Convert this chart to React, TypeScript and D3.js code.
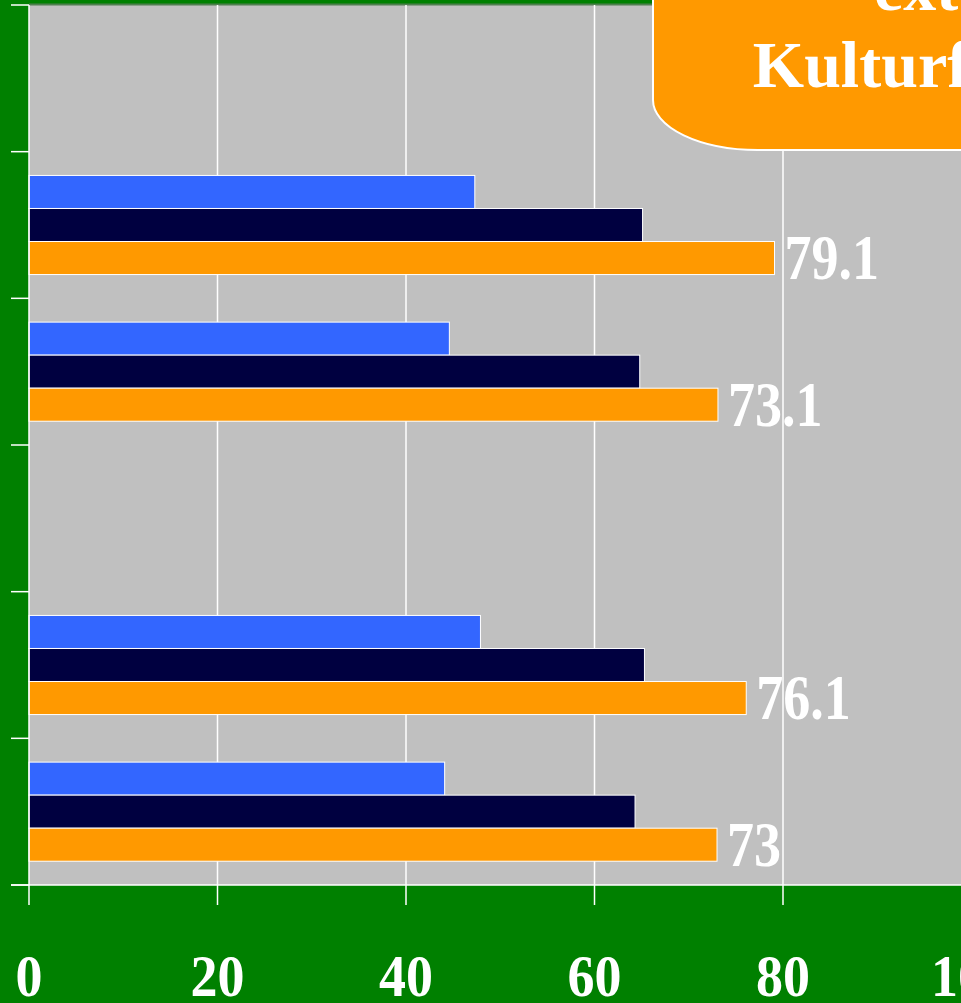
import * as d3 from "d3";
import { useEffect, useRef } from "react";

// categories (left labels are outside the visible crop), null = empty row
const categories = ["row1", "row2", "row3", "row4", "row5", "row6"];
const seriesNames = ["blue", "navy", "orange"];
const blueValues = [null, 47.3, 44.6, null, 47.9, 44.1];
const navyValues = [null, 65.1, 64.8, null, 65.3, 64.3];
const orangeValues = [null, 79.1, 73.1, null, 76.1, 73];
const xTicks = [0, 20, 40, 60, 80, 100];
const calloutLines = ["externer", "Kulturförderung"];

const colors = { blue: "#3366FF", navy: "#000040", orange: "#FF9900" };

export default function App() {
  const svgRef = useRef<SVGSVGElement>(null);

  useEffect(() => {
    draw();
  }, []);

  function draw() {
    const width = 961;
    const height = 1003;
    const plotTop = 5;
    const plotBottom = 885;
    const plotLeft = 29;

    const svg = d3.select(svgRef.current);
    svg.selectAll("*").remove();

    const x = d3.scaleLinear().domain([0, 100]).range([plotLeft, plotLeft + 942.5]);
    const y = d3.scaleBand().domain(categories).range([plotTop, plotBottom]).padding(0);
    const ySub = d3
      .scaleBand()
      .domain(seriesNames)
      .range([0, y.bandwidth()])
      .paddingInner(0)
      .paddingOuter(0.72);

    svg.append("rect").attr("width", width).attr("height", height).attr("fill", "#008000");

    // plot area
    svg
      .append("rect")
      .attr("x", plotLeft)
      .attr("y", plotTop)
      .attr("width", width - plotLeft)
      .attr("height", plotBottom - plotTop)
      .attr("fill", "#C0C0C0");
    svg
      .append("line")
      .attr("x1", plotLeft)
      .attr("x2", width)
      .attr("y1", plotTop - 0.5)
      .attr("y2", plotTop - 0.5)
      .attr("stroke", "#4f7f4f")
      .attr("stroke-width", 2);

    // gridlines
    svg
      .selectAll(".grid")
      .data(xTicks.filter((t) => t > 0))
      .join("line")
      .attr("x1", (d) => x(d))
      .attr("x2", (d) => x(d))
      .attr("y1", plotTop)
      .attr("y2", plotBottom)
      .attr("stroke", "#fff")
      .attr("stroke-width", 1.5);

    // bars
    const seriesData = [blueValues, navyValues, orangeValues];
    seriesNames.forEach((s, si) => {
      const vals = seriesData[si];
      const rows = categories
        .map((c, i) => ({ c, v: vals[i] }))
        .filter((r) => r.v !== null) as { c: string; v: number }[];
      svg
        .selectAll(`.bar_${s}`)
        .data(rows)
        .join("rect")
        .attr("x", x(0))
        .attr("y", (d) => (y(d.c) as number) + (ySub(s) as number))
        .attr("width", (d) => x(d.v) - x(0))
        .attr("height", ySub.bandwidth())
        .attr("fill", (colors as any)[s])
        .attr("stroke", "#fff")
        .attr("stroke-width", 1);
    });

    // value labels on orange bars
    const labelRows = categories
      .map((c, i) => ({ c, v: orangeValues[i] }))
      .filter((r) => r.v !== null) as { c: string; v: number }[];
    svg
      .selectAll(".valLabel")
      .data(labelRows)
      .join("text")
      .attr(
        "transform",
        (d) =>
          `translate(${x(d.v) + 10},${(y(d.c) as number) + (ySub("orange") as number) + ySub.bandwidth() / 2 + 21}) scale(1,1.16)`
      )
      .attr("font-family", "'Liberation Serif', 'Times New Roman', serif")
      .attr("font-weight", "bold")
      .attr("font-size", 54)
      .attr("fill", "#fff")
      .text((d) => String(d.v));

    // axes
    svg
      .append("line")
      .attr("x1", plotLeft)
      .attr("x2", plotLeft)
      .attr("y1", plotTop)
      .attr("y2", plotBottom)
      .attr("stroke", "#fff")
      .attr("stroke-width", 1.5);
    const yTickPos = categories.map((c) => y(c) as number).concat([plotBottom]);
    svg
      .selectAll(".yTick")
      .data(yTickPos)
      .join("line")
      .attr("x1", 11)
      .attr("x2", plotLeft)
      .attr("y1", (d) => d)
      .attr("y2", (d) => d)
      .attr("stroke", "#fff")
      .attr("stroke-width", 1.5);
    svg
      .append("line")
      .attr("x1", 11)
      .attr("x2", width)
      .attr("y1", plotBottom)
      .attr("y2", plotBottom)
      .attr("stroke", "#fff")
      .attr("stroke-width", 1.5);
    svg
      .selectAll(".xTick")
      .data(xTicks)
      .join("line")
      .attr("x1", (d) => x(d))
      .attr("x2", (d) => x(d))
      .attr("y1", plotBottom)
      .attr("y2", plotBottom + 20)
      .attr("stroke", "#fff")
      .attr("stroke-width", 1.5);
    svg
      .selectAll(".xLabel")
      .data(xTicks)
      .join("text")
      .attr("transform", (d) => `translate(${x(d)},996) scale(1,1.1)`)
      .attr("text-anchor", "middle")
      .attr("font-family", "'Liberation Serif', 'Times New Roman', serif")
      .attr("font-weight", "bold")
      .attr("font-size", 54)
      .attr("fill", "#fff")
      .text((d) => String(d));

    // callout box
    svg
      .append("path")
      .attr("d", "M653,-60 L653,100 A105,50 0 0 0 758,150 L1010,150 L1010,-60 Z")
      .attr("fill", "#FF9900")
      .attr("stroke", "#fff")
      .attr("stroke-width", 2);
    svg
      .selectAll(".callout")
      .data(calloutLines)
      .join("text")
      .attr("x", 993)
      .attr("y", (d, i) => 10 + i * 77)
      .attr("text-anchor", "middle")
      .attr("font-family", "'Liberation Serif', 'Times New Roman', serif")
      .attr("font-weight", "bold")
      .attr("font-size", 66)
      .attr("fill", "#fff")
      .text((d) => d);
  }

  return (
    <svg
      ref={svgRef}
      width={961}
      height={1003}
      style={{ position: "absolute", left: 0, top: 0, display: "block" }}
    ></svg>
  );
}
